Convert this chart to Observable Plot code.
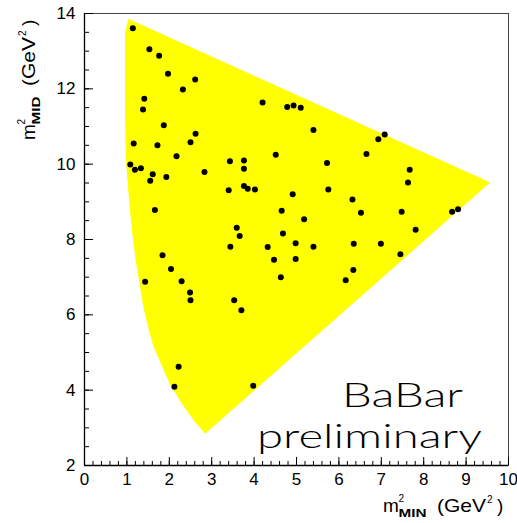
<!DOCTYPE html>
<html><head><meta charset="utf-8">
<script src="https://cdn.jsdelivr.net/npm/d3@7"></script>
<script src="https://cdn.jsdelivr.net/npm/@observablehq/plot@0.6"></script>
<style>body{margin:0;background:#fff}</style>
</head><body><div id="chart"></div>
<script>
// Event values
const mMinSq = [1.14,1.53,1.76,1.97,2.61,2.32,1.41,1.38,4.20,1.87,2.62,1.16,1.72,2.50,2.17,3.43,3.76,1.08,
  4.78,4.93,5.10,5.40,6.93,7.08,4.51,6.65,5.72,7.67,7.63,7.48,8.67,8.81,7.81,7.45,
  1.19,1.33,1.61,1.55,1.93,2.83,3.76,3.40,3.76,3.85,4.02,1.66,3.59,3.66,3.44,1.84,2.04,1.43,2.29,2.49,2.50,3.53,3.70,
  4.91,5.75,6.32,4.65,5.18,6.52,4.68,4.32,4.98,5.40,6.35,6.99,4.47,4.98,4.63,6.34,6.16,2.22,2.12,3.98];
const mMidSq = [13.61,13.05,12.88,12.40,12.25,11.98,11.74,11.45,11.64,11.03,10.81,10.55,10.50,10.58,10.21,10.08,10.10,9.99,
  11.52,11.56,11.50,10.91,10.66,10.79,10.25,10.27,10.03,9.85,9.51,8.74,8.74,8.80,8.26,7.61,
  9.85,9.89,9.73,9.56,9.66,9.79,9.88,9.31,9.42,9.35,9.33,8.78,8.31,8.09,7.81,7.58,7.22,6.88,6.89,6.59,6.39,6.39,6.12,
  9.20,9.33,9.06,8.76,8.54,8.71,8.16,7.80,7.90,7.81,7.89,7.89,7.46,7.48,7.00,7.19,6.92,4.62,4.09,4.12];
// Kinematic region outline
const boundaryX = [1.04,9.55,2.85,2.62,2.34,2.04,1.83,1.63,1.50,1.40,1.22,1.14,1.085,0.998,0.974,0.967,0.967,1.04];
const boundaryY = [13.84,9.51,2.86,3.15,3.59,4.12,4.66,5.19,5.72,6.20,7.44,8.16,8.77,9.96,10.81,11.69,13.47,13.84];
const xMajorTicks = [0,1,2,3,4,5,6,7,8,9,10];
const yMajorTicks = [2,4,6,8,10,12,14];
const xMinorTicks = d3.range(0, 10.001, 0.2);
const yMinorTicks = d3.range(2, 14.001, 0.5);

const events = mMinSq.map((x, i) => ({x, y: mMidSq[i]}));
const outline = boundaryX.map((x, i) => ({x, y: boundaryY[i]}));

const W = 517, H = 523, ML = 84, MR = 9, MT = 13, MB = 58;
const innerW = W - ML - MR, innerH = H - MT - MB;

const plot = Plot.plot({
  width: W, height: H,
  marginLeft: ML, marginRight: MR, marginTop: MT, marginBottom: MB,
  x: {domain: [0, 10]},
  y: {domain: [2, 14]},
  style: {fontFamily: "Liberation Sans, Arial, sans-serif", background: "#fff", color: "#000"},
  marks: [
    Plot.line(outline, {x: "x", y: "y", fill: "#ffff00", stroke: "#ffff00", strokeWidth: 1, curve: "linear"}),
    Plot.dot(events, {x: "x", y: "y", r: 3, fill: "#000", stroke: null}),
    Plot.frame({stroke: "#444"}),
    // inward ticks
    Plot.ruleX(xMinorTicks, {x: d => d, insetTop: innerH - 4, stroke: "#000"}),
    Plot.ruleX(xMajorTicks, {x: d => d, insetTop: innerH - 8, stroke: "#000"}),
    Plot.ruleY(yMinorTicks, {y: d => d, insetRight: innerW - 5, stroke: "#000"}),
    Plot.ruleY(yMajorTicks, {y: d => d, insetRight: innerW - 9, stroke: "#000"}),
    Plot.ruleX([0], {stroke: "#000", strokeWidth: 1.3}),
    Plot.ruleY([2], {stroke: "#000", strokeWidth: 1.3}),
    Plot.axisX({ticks: xMajorTicks, tickSize: 0, tickPadding: 7, fontSize: 17, label: null}),
    Plot.axisY({ticks: yMajorTicks, tickSize: 0, tickPadding: 9, fontSize: 17, label: null})
  ]
});
document.getElementById("chart").appendChild(plot);

const svg = d3.select(plot);
function title(g, sub) {
  const f = "Liberation Sans, Arial, sans-serif";
  g.attr("text-anchor", "start").attr("font-family", f).attr("fill", "#000");
  g.append("text").attr("x", 0).attr("y", 0).attr("font-size", 19).text("m");
  g.append("text").attr("x", 15.5).attr("y", -10).attr("font-size", 10).text("2");
  g.append("text").attr("x", 15.5).attr("y", 5).attr("font-size", 10).attr("font-weight", "bold")
    .attr("textLength", 28).attr("lengthAdjust", "spacingAndGlyphs").text(sub);
  g.append("text").attr("x", 54).attr("y", 0).attr("font-size", 19)
    .attr("textLength", 49).attr("lengthAdjust", "spacingAndGlyphs").text("(GeV");
  g.append("text").attr("x", 104).attr("y", -9).attr("font-size", 10).text("2");
  g.append("text").attr("x", 114).attr("y", 0).attr("font-size", 19).text(")");
}
title(svg.append("g").attr("transform", "translate(383,512)"), "MIN");
title(svg.append("g").attr("transform", "translate(35,140) rotate(-90)"), "MID");

const lf = "Lato, 'DejaVu Sans', sans-serif";
const ann = svg.append("g").attr("text-anchor", "start").attr("fill", "#000").attr("font-family", lf);
ann.append("text").attr("x", 342).attr("y", 407).attr("font-size", 34).attr("font-weight", 300)
  .attr("textLength", 121).attr("lengthAdjust", "spacingAndGlyphs").text("BaBar");
ann.append("text").attr("x", 257).attr("y", 448).attr("font-size", 34).attr("font-weight", 300)
  .attr("textLength", 225).attr("lengthAdjust", "spacingAndGlyphs").text("preliminary");
</script></body></html>
